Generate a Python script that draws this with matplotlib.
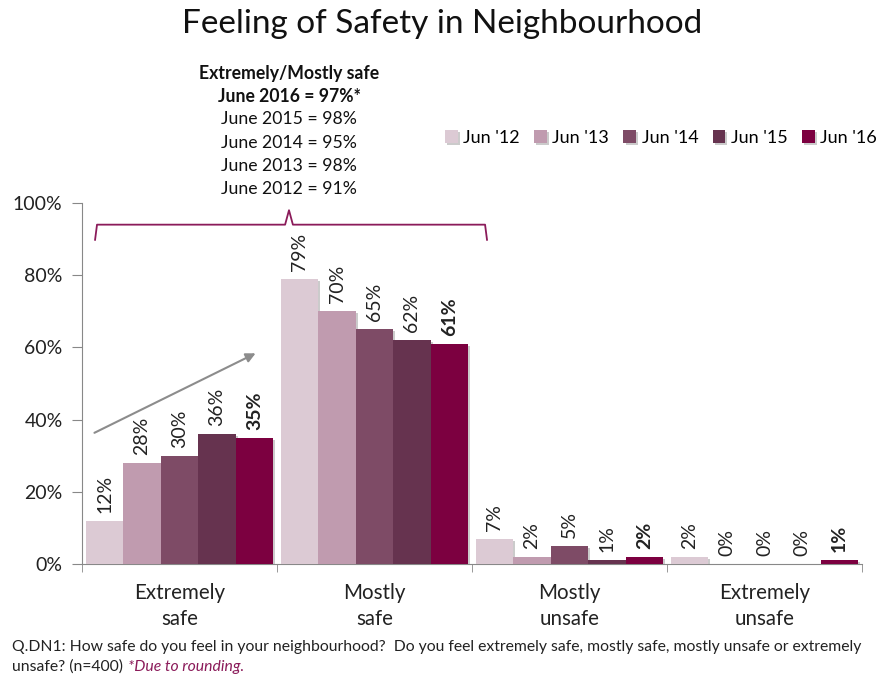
import matplotlib
matplotlib.use("Agg")
import matplotlib.pyplot as plt
import matplotlib.patheffects as pe
import numpy as np

categories = ["Extremely\nsafe", "Mostly\nsafe", "Mostly\nunsafe", "Extremely\nunsafe"]
series_names = ["Jun '12", "Jun '13", "Jun '14", "Jun '15", "Jun '16"]
values = {
    "Jun '12": [12, 79, 7, 2],
    "Jun '13": [28, 70, 2, 0],
    "Jun '14": [30, 65, 5, 0],
    "Jun '15": [36, 62, 1, 0],
    "Jun '16": [35, 61, 2, 1],
}
colors = ["#DCCAD4", "#C09BAF", "#7E4B66", "#66334F", "#7C0040"]
y_ticks = [0, 20, 40, 60, 80, 100]
annotation_lines = ["Extremely/Mostly safe", "June 2016 = 97%*", "June 2015 = 98%",
                    "June 2014 = 95%", "June 2013 = 98%", "June 2012 = 91%"]

plt.rcParams['font.family'] = ['Lato', 'DejaVu Sans']

fig = plt.figure(figsize=(8.85, 6.76), dpi=100)
ax = fig.add_axes([82/885, 1-564/676, 780/885, 361/676])

w = 0.192
x = np.arange(len(categories))
shadow = [pe.SimplePatchShadow(offset=(1.5, -1.5), shadow_rgbFace="#999999", alpha=0.5), pe.Normal()]
for i, name in enumerate(series_names):
    vals = np.array(values[name]) / 100.0
    pos = x + (i - 2) * w
    bars = ax.bar(pos, vals, width=w, color=colors[i], label=name, zorder=3)
    for b in bars:
        b.set_path_effects(shadow)
    for p, v, raw in zip(pos, vals, values[name]):
        ax.text(p, v + 0.022, f"{raw}%", rotation=90, ha="center", va="bottom",
                fontsize=14, color="#222222",
                fontweight="bold" if name == "Jun '16" else "normal", zorder=4)

ax.set_xlim(-0.5, 3.5)
ax.set_ylim(0, 1.0)
ax.set_yticks([t / 100 for t in y_ticks])
ax.set_yticklabels([f"{t}%" for t in y_ticks], fontsize=14, color="#222222")
ax.set_xticks(x)
ax.set_xticklabels(categories, fontsize=14.8, color="#222222", linespacing=1.35)
ax.set_xticks(np.arange(-0.5, 4.0, 1.0), minor=True)
ax.tick_params(axis="x", which="major", length=0, pad=14)
ax.tick_params(axis="x", which="minor", length=6, color="#888888", direction="out")
ax.tick_params(axis="y", length=7.5, color="#888888", direction="out", pad=6.5)
for s in ["top", "right"]:
    ax.spines[s].set_visible(False)
ax.spines["left"].set_color("#888888")
ax.spines["bottom"].set_color("#888888")

# arrow
ax.annotate("", xy=(0.403, 0.587), xytext=(-0.449, 0.36),
            arrowprops=dict(arrowstyle="-|>", color="#8C8C8C", lw=1.5, mutation_scale=14), zorder=5)

# bracket
bx0, bx1, bxm = -0.433, 1.577, 0.5615
by, byend, bypk = 0.94, 0.898, 0.98
br_color = "#8B1B5A"
ax.plot([bx0, bx0 + 0.01, bxm - 0.02, bxm, bxm + 0.02, bx1 - 0.01, bx1],
        [byend, by, by, bypk, by, by, byend], color=br_color, lw=1.3, clip_on=False, zorder=5)

# annotation text
ys = [74, 96, 119, 143, 166, 189]
for k, (line, yp) in enumerate(zip(annotation_lines, ys)):
    fig.text(289/885, 1 - yp/676, line, ha="center", va="center", fontsize=12.7,
             fontweight="bold" if k < 2 else "normal", color="#111111")

# title
fig.text(0.5, 1 - 24/676, "Feeling of Safety in Neighbourhood", ha="center", va="center",
         fontsize=24, color="#111111")

# legend
leg = fig.legend(loc="center right", bbox_to_anchor=(884/885, 1 - 138/676), ncol=5,
                 frameon=False, fontsize=13, handlelength=0.7, handleheight=0.7,
                 handletextpad=0.3, columnspacing=0.8, borderaxespad=0)

# footer
fig.text(12/885, 1 - 647/676, "Q.DN1: How safe do you feel in your neighbourhood?  Do you feel extremely safe, mostly safe, mostly unsafe or extremely",
         ha="left", va="center", fontsize=11.3, color="#222222")
fig.text(12/885, 1 - 667/676, "unsafe? (n=400)", ha="left", va="center", fontsize=11.3, color="#222222")
fig.text(128/885, 1 - 667/676, "*Due to rounding.", ha="left", va="center", fontsize=11.3,
         color="#8B1B5A", style="italic")

fig.savefig("out.png", dpi=100)
